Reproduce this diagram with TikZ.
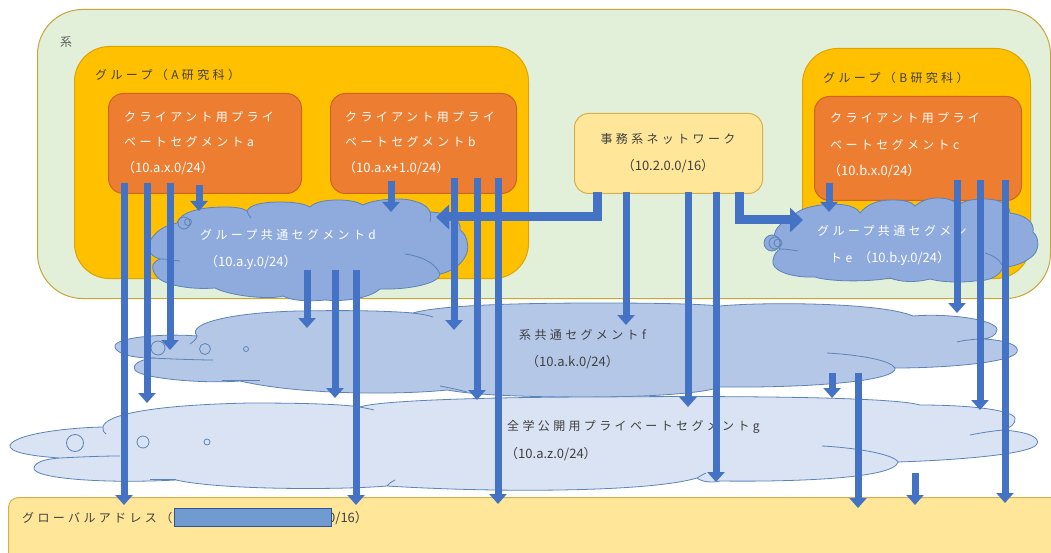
\documentclass[tikz,border=0pt]{standalone}
\usepackage{fontspec}
\setmainfont{Noto Sans CJK JP}
\newfontfamily\jpfont{Noto Sans CJK JP}[LetterSpace=28]
\usetikzlibrary{arrows.meta}
\definecolor{kgreen}{HTML}{E2F0D9}
\definecolor{kgold}{HTML}{C9A53A}
\definecolor{grpY}{HTML}{FFC000}
\definecolor{grpE}{HTML}{DDA400}
\definecolor{cliO}{HTML}{ED7D31}
\definecolor{cliE}{HTML}{CC6424}
\definecolor{offY}{HTML}{FFE699}
\definecolor{offE}{HTML}{D6B14B}
\definecolor{cdF}{HTML}{8FAADC}
\definecolor{cfF}{HTML}{B4C7E7}
\definecolor{cgF}{HTML}{DAE3F3}
\definecolor{cloudE}{HTML}{5B84B8}
\definecolor{arrB}{HTML}{4472C4}
\definecolor{txtD}{HTML}{404040}
\definecolor{redF}{HTML}{6F9BD0}
\definecolor{redE}{HTML}{2F5597}
\tikzset{
 rbox/.style={anchor=north west, inner sep=0pt, line width=1pt},
 jp/.style={anchor=west, inner sep=0pt, font=\jpfont\fontsize{12pt}{14pt}\selectfont},
 num/.style={anchor=west, inner sep=0pt, font=\fontsize{13pt}{15pt}\selectfont},
 wt/.style={text=white}, dk/.style={text=txtD},
 cl/.style={draw=cloudE, line width=0.8pt},
 arr/.style={draw=arrB, line width=7pt, -{Triangle[width=17pt,length=10pt]}},
 bigarr/.style={draw=arrB, line width=9pt, line join=miter, -{Triangle[width=24pt,length=13pt]}},
}
\begin{document}
\begin{tikzpicture}[x=1pt,y=-1pt]
\useasboundingbox (0,0) rectangle (1051,553);
% system box
\node[rbox, draw=kgold, fill=kgreen, rounded corners=45pt, minimum width=1013pt, minimum height=289pt] (sys) at (37,9) {};
\node[anchor=west, inner sep=0pt, font=\fontsize{12pt}{14pt}\selectfont, text=txtD!85] (syslbl) at (60,42) {系};
% group A
\node[rbox, draw=grpE, fill=grpY, rounded corners=35pt, minimum width=454pt, minimum height=232pt] (grpA) at (74,46) {};
\node[jp, dk] (grpAl) at (95,75) {グループ（A研究科）};
% group B
\node[rbox, draw=grpE, fill=grpY, rounded corners=35pt, minimum width=228pt, minimum height=230pt] (grpB) at (802,48) {};
\node[jp, dk] (grpBl) at (823,78) {グループ（B研究科）};
% clients
\node[rbox, draw=cliE, fill=cliO, rounded corners=15pt, minimum width=193pt, minimum height=100pt] (ca) at (108,93) {};
\node[jp, wt] (ca1) at (124,117) {クライアント用プライ};
\node[jp, wt] (ca2) at (124,142) {ベートセグメントa};
\node[num, wt] (ca3) at (122,168) {（10.a.x.0/24）};
\node[rbox, draw=cliE, fill=cliO, rounded corners=15pt, minimum width=186pt, minimum height=100pt] (cb) at (330,93) {};
\node[jp, wt] (cb1) at (345,117) {クライアント用プライ};
\node[jp, wt] (cb2) at (345,142) {ベートセグメントb};
\node[num, wt] (cb3) at (343,168) {（10.a.x+1.0/24）};
\node[rbox, draw=cliE, fill=cliO, rounded corners=15pt, minimum width=207pt, minimum height=104pt] (cc) at (814,96) {};
\node[jp, wt] (cc1) at (830,118) {クライアント用プライ};
\node[jp, wt] (cc2) at (830,145) {ベートセグメントc};
\node[num, wt] (cc3) at (828,171) {（10.b.x.0/24）};
% office
\node[rbox, draw=offE, fill=offY, rounded corners=14pt, minimum width=188pt, minimum height=80pt] (off) at (574,113) {};
\node[jp, dk, anchor=center] (off1) at (668,139) {事務系ネットワーク};
\node[num, dk, anchor=center] (off2) at (668,166) {（10.2.0.0/16）};
% cloud d
\draw[cl, fill=cdF] (177,223)
 .. controls (180,212) and (200,207) .. (225,207)
 .. controls (235,207) and (243,208) .. (247,211)
 .. controls (250,204) and (265,202) .. (280,202)
 .. controls (295,202) and (305,204) .. (310,207)
 .. controls (315,202) and (325,200) .. (338,200)
 .. controls (350,200) and (358,202) .. (363,205)
 .. controls (370,201) and (385,199) .. (398,199)
 .. controls (415,199) and (428,205) .. (430,212)
 .. controls (450,213) and (462,220) .. (460,230)
 .. controls (468,235) and (470,250) .. (465,257)
 .. controls (460,266) and (450,272) .. (440,274)
 .. controls (440,283) and (410,290) .. (380,289)
 .. controls (370,298) and (345,302) .. (325,300)
 .. controls (305,302) and (290,300) .. (283,296)
 .. controls (270,300) and (230,296) .. (215,288)
 .. controls (190,290) and (160,285) .. (155,274)
 .. controls (150,266) and (153,262) .. (160,259)
 .. controls (148,256) and (145,245) .. (152,238)
 .. controls (157,230) and (167,225) .. (177,223) -- cycle;
\draw[cl] (160,259) .. controls (166,259) and (172,260) .. (180,261);
\draw[cl] (405,254) .. controls (420,256) and (435,262) .. (440,274);
\draw[cl] (247,211) .. controls (248,214) and (249,216) .. (251,218);
\draw[cl] (430,212) .. controls (431,216) and (431,219) .. (430,222);
\draw[cl, fill=cdF] (184,223) circle (6);
\draw[cl] (188,222) circle (3.5);
\node[jp, wt] (cd1) at (200,235) {グループ共通セグメントd};
\node[num, wt] (cd2) at (205,262) {（10.a.y.0/24）};
% cloud e
\draw[cl, fill=cdF] (795,214)
 .. controls (805,205) and (830,203) .. (845,205)
 .. controls (852,206) and (858,209) .. (860,213)
 .. controls (868,203) and (880,200) .. (892,200)
 .. controls (905,200) and (912,202) .. (915,206)
 .. controls (922,200) and (930,198) .. (938,198)
 .. controls (948,198) and (955,201) .. (958,205)
 .. controls (965,200) and (975,199) .. (985,199)
 .. controls (1000,199) and (1010,205) .. (1010,213)
 .. controls (1025,215) and (1035,222) .. (1033,232)
 .. controls (1040,238) and (1040,252) .. (1030,258)
 .. controls (1022,264) and (1012,267) .. (1003,267)
 .. controls (1000,276) and (990,281) .. (975,281)
 .. controls (960,283) and (940,282) .. (930,279)
 .. controls (915,283) and (900,282) .. (890,278)
 .. controls (870,282) and (830,282) .. (815,277)
 .. controls (790,278) and (770,270) .. (773,260)
 .. controls (774,254) and (777,251) .. (780,249)
 .. controls (772,244) and (772,232) .. (780,225)
 .. controls (785,219) and (790,216) .. (795,214) -- cycle;
\draw[cl] (780,249) .. controls (786,249) and (792,250) .. (798,251);
\draw[cl] (985,253) .. controls (995,256) and (1001,261) .. (1003,267);
\draw[cl, fill=cdF] (772,243) circle (8);
\draw[cl] (775,243) circle (6);
\draw[cl] (778,243) circle (4);
\node[jp, wt] (ce1) at (817,231) {グループ共通セグメン};
\node[num, wt] (ce2) at (830,258) {{\jpfont\fontsize{12pt}{14pt}\selectfont トe }（10.b.y.0/24）};
% cloud f
\draw[cl, fill=cfF] (115,347)
 .. controls (112,338) and (160,333) .. (197,336)
 .. controls (185,322) and (240,312) .. (300,311)
 .. controls (350,310) and (390,311) .. (413,313)
 .. controls (440,305) and (520,303) .. (600,303)
 .. controls (660,303) and (700,304) .. (720,306)
 .. controls (760,302) and (880,302) .. (913,316)
 .. controls (950,313) and (998,320) .. (997,330)
 .. controls (996,336) and (990,338) .. (983,339)
 .. controls (1005,340) and (1020,345) .. (1017,352)
 .. controls (1013,362) and (950,368) .. (895,368)
 .. controls (898,380) and (820,388) .. (720,387)
 .. controls (700,395) and (620,398) .. (560,397)
 .. controls (500,396) and (470,394) .. (447,390)
 .. controls (400,395) and (300,395) .. (240,381)
 .. controls (200,384) and (140,378) .. (135,370)
 .. controls (132,364) and (140,360) .. (152,358)
 .. controls (130,358) and (116,353) .. (115,347) -- cycle;
\draw[cl] (152,358) .. controls (170,359) and (200,360) .. (213,360);
\draw[cl] (222,380) -- (260,380);
\draw[cl] (440,386) .. controls (450,388) and (460,390) .. (467,392);
\draw[cl] (827,353) .. controls (860,355) and (890,360) .. (895,368);
\draw[cl] (957,342) .. controls (965,340) and (975,339) .. (983,339);
\draw[cl] (413,313) .. controls (420,314) and (428,315) .. (433,317);
\draw[cl] (197,336) .. controls (196,340) and (193,342) .. (190,344);
\draw[cl, fill=cfF] (158,348) circle (7);
\draw[cl, fill=cfF] (205,349) circle (5.5);
\draw[cl, fill=cfF] (246,349) circle (2.5);
\node[jp, dk] (cf1) at (519,335) {系共通セグメントf};
\node[num, dk] (cf2) at (526,362) {（10.a.k.0/24）};
% cloud g
\draw[cl, fill=cgF] (10,445)
 .. controls (15,435) and (60,428) .. (103,427)
 .. controls (105,415) and (150,405) .. (250,403)
 .. controls (300,403) and (340,404) .. (360,407)
 .. controls (380,400) and (500,397) .. (600,397)
 .. controls (700,396) and (890,396) .. (920,405)
 .. controls (970,405) and (1012,410) .. (1015,418)
 .. controls (1016,424) and (1010,428) .. (1003,430)
 .. controls (1030,432) and (1040,438) .. (1037,444)
 .. controls (1032,454) and (960,460) .. (898,462)
 .. controls (895,478) and (800,482) .. (720,481)
 .. controls (712,483) and (702,482) .. (697,478)
 .. controls (650,492) and (500,493) .. (387,486)
 .. controls (340,490) and (220,490) .. (176,480)
 .. controls (100,484) and (32,478) .. (34,468)
 .. controls (35,462) and (45,459) .. (60,458)
 .. controls (30,456) and (8,452) .. (10,445) -- cycle;
\draw[cl] (60,458) .. controls (80,457) and (100,456) .. (120,456);
\draw[cl] (150,479) -- (176,479);
\draw[cl] (387,486) .. controls (390,483) and (392,481) .. (395,480);
\draw[cl] (697,478) .. controls (700,476) and (702,475) .. (706,473);
\draw[cl] (822,446) .. controls (860,448) and (895,455) .. (898,462);
\draw[cl] (970,435) .. controls (980,433) and (992,431) .. (1003,430);
\draw[cl] (360,407) .. controls (365,408) and (370,409) .. (374,410);
\draw[cl] (103,427) .. controls (103,431) and (104,433) .. (106,434);
\draw[cl, fill=cgF] (75,443) circle (8.5);
\draw[cl, fill=cgF] (143,442) circle (6);
\draw[cl, fill=cgF] (207,442) circle (3);
\node[jp, dk] (cg1) at (507,427) {全学公開用プライベートセグメントg};
\node[num, dk] (cg2) at (505,454) {（10.a.z.0/24）};
% global
\node[rbox, draw=offE, fill=offY, rounded corners=10pt, minimum width=1060pt, minimum height=70pt] (glb) at (8,497) {};
\node[jp, dk] (glb1) at (22,518) {グローバルアドレス（};
\node[num, dk] (glb2) at (328,518) {0/16）};
\draw[draw=redE, fill=redF, line width=0.6pt] (174,508) rectangle (331,526);
% arrows
\foreach \n/\x/\ya/\yb in {a1/124/183/505, a2/147/183/403, a3/170/183/350, a4/199/185/211,
  d1/307/270/328, d2/335/270/398, d3/356/270/505,
  b1/391/181/212, b2/454/178/330, b3/477/178/400, b4/498/178/504,
  o1/626/192/325, o2/688/192/407, o3/716/192/482,
  c1/829/183/212, c2/957/180/313, c3/980/180/410, c4/1005/180/503,
  f1/832/373/398, f2/858/373/508, f3/915/473/505}
  {\draw[arr] (\x,\ya) coordinate (\n s) -- (\x,\yb) coordinate (\n e);}
\coordinate (ol) at (597,192);
\coordinate (olt) at (436,217);
\coordinate (or) at (739,192);
\coordinate (ort) at (803,220);
\draw[bigarr] (ol) |- (olt);
\draw[bigarr] (or) |- (ort);
\end{tikzpicture}
\end{document}
